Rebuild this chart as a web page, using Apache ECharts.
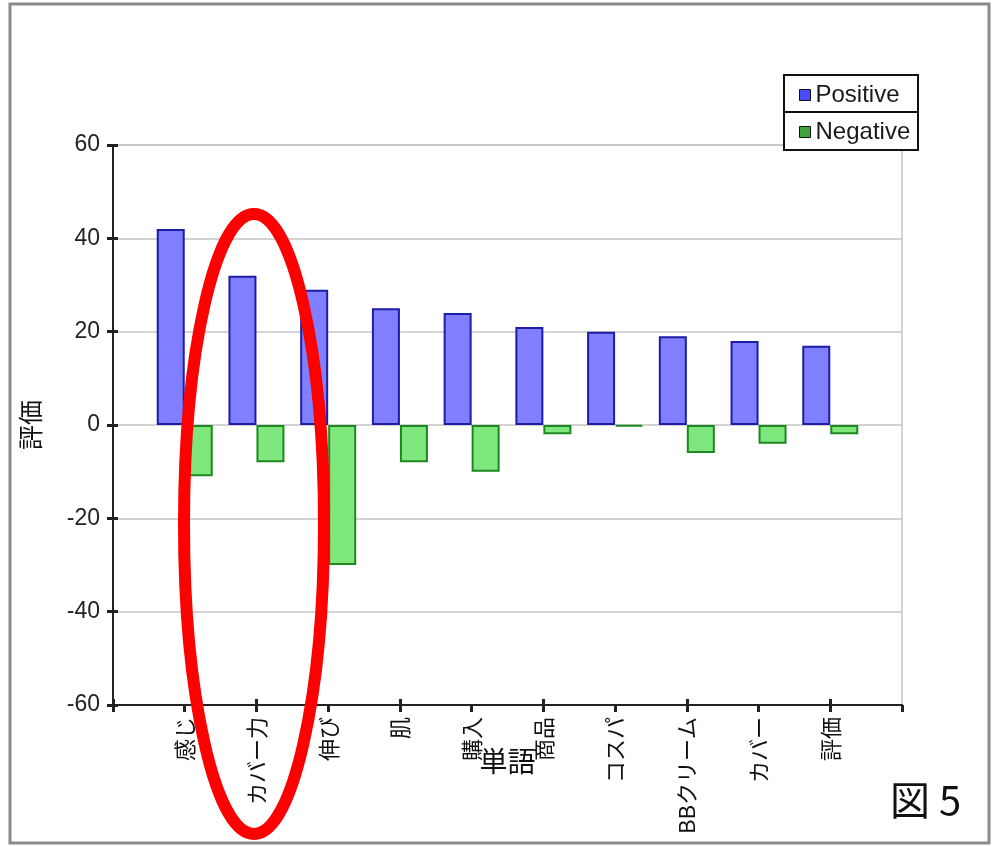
<!DOCTYPE html>
<html>
<head>
<meta charset="utf-8">
<script src="https://cdn.jsdelivr.net/npm/echarts@6/dist/echarts.min.js"></script>
<style>
html,body{margin:0;padding:0;background:#fff;}
#chart{width:993px;height:846px;}
</style>
</head>
<body>
<div id="chart"></div>
<script>
// ---- data ----
const categories = ['感じ', 'カバー力', '伸び', '肌', '購入', '商品', 'コスパ', 'BBクリーム', 'カバー', '評価'];
const positiveValues = [42, 32, 29, 25, 24, 21, 20, 19, 18, 17];
const negativeValues = [-11, -8, -30, -8, -10, -2, -0.3, -6, -4, -2];
const yTicks = [-60, -40, -20, 0, 20, 40, 60];
const seriesNames = ['Positive', 'Negative'];
const xAxisName = '単語';
const yAxisName = '評価';
const figureLabel = '図 5';

// padded category list (empty slot at both ends, like the original axis)
const cats = [''].concat(categories, ['']);
const pad = arr => ['-'].concat(arr, ['-']);

const FONT = '"Liberation Sans", "Noto Sans CJK JP", sans-serif';
const CJK = '"Noto Sans CJK JP", sans-serif';
const chart = echarts.init(document.getElementById('chart'), null, {renderer: 'canvas'});

const option = {
  animation: false,
  backgroundColor: '#fff',
  grid: {left: 113, right: 91, top: 145, bottom: 141, show: true, borderColor: '#c4c4c4', borderWidth: 1.5,
         backgroundColor: 'transparent', containLabel: false, outerBoundsMode: 'none'},
  legend: {
    orient: 'vertical', left: 794, top: 78, itemGap: 13, itemWidth: 11, itemHeight: 11, z: 200,
    icon: 'rect',
    textStyle: {fontFamily: FONT, fontSize: 24, color: '#1a1a1a', lineHeight: 24},
    data: [
      {name: seriesNames[0], itemStyle: {color: '#4a4aff', borderColor: '#111', borderWidth: 1}},
      {name: seriesNames[1], itemStyle: {color: '#3fa33f', borderColor: '#111', borderWidth: 1}}
    ]
  },
  xAxis: [{
    type: 'category', data: cats, boundaryGap: false, position: 'bottom',
    name: xAxisName, nameLocation: 'middle', nameGap: 42, nameMoveOverlap: false,
    nameTextStyle: {fontFamily: CJK, fontSize: 28, color: '#111'},
    axisLine: {onZero: false, lineStyle: {color: '#222', width: 2}},
    axisTick: {show: true, length: 7, lineStyle: {color: '#222', width: 3}},
    axisLabel: {rotate: 90, interval: 0, margin: 12, fontFamily: CJK, fontSize: 22, color: '#111'},
    splitLine: {show: false}
  }, {
    type: 'category', data: cats, boundaryGap: false, position: 'bottom',
    axisLine: {show: false, onZero: false},
    axisTick: {show: true, inside: true, length: 6, lineStyle: {color: '#222', width: 3}},
    axisLabel: {show: false}, splitLine: {show: false}
  }],
  yAxis: [{
    type: 'value', min: -60, max: 60, interval: 20,
    name: yAxisName, nameLocation: 'middle', nameGap: 70, nameRotate: 90, nameMoveOverlap: false,
    nameTextStyle: {fontFamily: CJK, fontSize: 25, color: '#111'},
    axisLine: {show: true, onZero: false, lineStyle: {color: '#222', width: 2}},
    axisTick: {show: true, length: 6, lineStyle: {color: '#222', width: 3}},
    axisLabel: {margin: 13, fontFamily: FONT, fontSize: 23, color: '#222',
      formatter: v => (yTicks.indexOf(v) >= 0 ? String(v) : '')},
    splitLine: {show: true, lineStyle: {color: '#c4c4c4', width: 1.5}}
  }, {
    type: 'value', min: -60, max: 60, interval: 20, position: 'left',
    axisLine: {show: false, onZero: false},
    axisTick: {show: true, inside: true, length: 5, lineStyle: {color: '#222', width: 3}},
    axisLabel: {show: false}, splitLine: {show: false}
  }],
  series: [{
    name: seriesNames[0], type: 'bar', xAxisIndex: 0, yAxisIndex: 0,
    data: pad(positiveValues), barWidth: 28, barGap: '0%',
    itemStyle: {color: '#7f7fff', borderColor: '#1d1da6', borderWidth: 2}
  }, {
    name: seriesNames[1], type: 'bar', xAxisIndex: 0, yAxisIndex: 0,
    data: pad(negativeValues), barWidth: 28, barGap: '0%',
    itemStyle: {color: '#7ee87e', borderColor: '#1f871f', borderWidth: 2}
  }],
  graphic: [
    {type: 'rect', z: 100, shape: {x: 784, y: 75, width: 134, height: 75}, style: {fill: '#fff', stroke: '#111', lineWidth: 2}},
    {type: 'line', z: 101, shape: {x1: 784, y1: 112, x2: 918, y2: 112}, style: {stroke: '#111', lineWidth: 2}},
    {type: 'rect', z: 50, shape: {x: 10, y: 4, width: 979, height: 839}, style: {fill: 'none', stroke: '#8a8a8a', lineWidth: 3}},
    {type: 'ellipse', z: 150, shape: {cx: 254, cy: 524, rx: 70, ry: 310}, style: {fill: 'none', stroke: '#ff0000', lineWidth: 12}},
    {type: 'text', z: 150, left: 890, top: 780, style: {text: figureLabel, font: '40px "Noto Sans CJK JP", sans-serif', fill: '#111'}}
  ]
};
chart.setOption(option);
</script>
</body>
</html>
